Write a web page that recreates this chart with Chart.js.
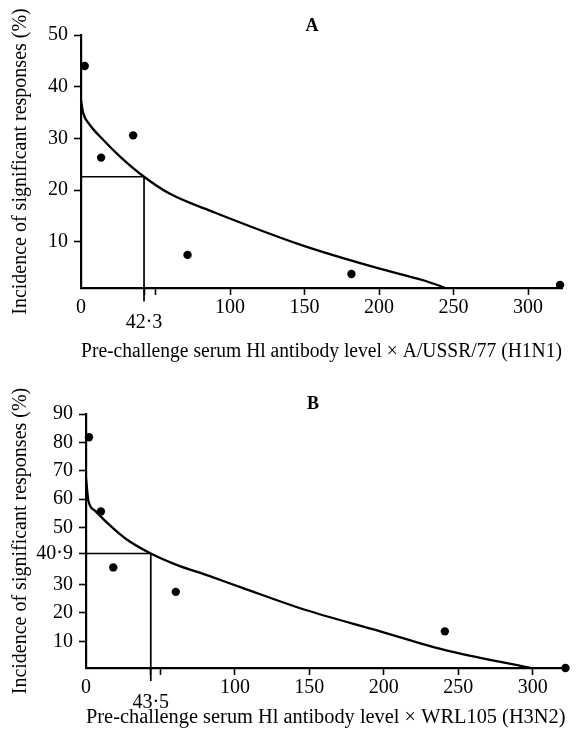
<!DOCTYPE html>
<html>
<head>
<meta charset="utf-8">
<script src="https://cdn.jsdelivr.net/npm/chart.js@4.4.1/dist/chart.umd.min.js"></script>
<style>
  body { margin: 0; background: #fff; }
  canvas { display: block; }
</style>
</head>
<body>
<canvas id="chartA" width="576" height="370"></canvas>
<canvas id="chartB" width="576" height="371"></canvas>
<script>
"use strict";

// panel A : A/USSR/77 (H1N1)
const doseA = [2.5, 13.5, 35, 71.5, 181.5, 321.5];
const respA = [44, 26.3, 30.6, 7.5, 3.8, 1.7];
const curveDoseA = [0, 1.5, 6, 15, 26.2, 42.3, 59.7, 88.8, 148, 198.5, 229.6, 244];
const curveRespA = [37.3, 34.9, 32.6, 29.7, 26.5, 22.6, 19.3, 15.8, 9.4, 5.0, 2.6, 1.2];
const cutA = [42.3, 22.6];
const xTicksA = [0, 42.3, 50, 100, 150, 200, 250, 300];
const yTicksA = [10, 20, 30, 40, 50];

// panel B : WRL105 (H3N2)
const doseB = [2, 10, 18.3, 60.3, 241, 322];
const respB = [81.8, 55.7, 36, 27.4, 13.5, 0.6];
const curveDoseB = [0, 1.6, 6, 15, 26.9, 43.5, 60.4, 82.7, 105, 147, 197.6, 240.6, 298.5];
const curveRespB = [67.5, 59.5, 56, 51.3, 46.0, 40.9, 37.0, 33, 28.8, 21.1, 13.5, 7, 0.6];
const cutB = [43.5, 40.9];
const xTicksB = [0, 43.5, 50, 100, 150, 200, 250, 300];
const yTicksB = [10, 20, 30, 40.9, 50, 60, 70, 80, 90];

const SERIF = '"Liberation Serif", "Times New Roman", serif';

const fmt = (v) => String(v).replace('.', '\u00B7');

const panelLetter = {
    id: 'panelLetter',
    afterDraw(chart, args, opts) {
        const ctx = chart.ctx;
        ctx.save();
        ctx.font = 'bold 18px ' + SERIF;
        ctx.fillStyle = '#000';
        ctx.textAlign = 'center';
        ctx.textBaseline = 'middle';
        ctx.fillText(opts.text, opts.x, opts.y);
        ctx.restore();
    }
};

function buildChart(canvasId, p) {
    const curve = p.curveX.map((x, i) => ({x: x, y: p.curveY[i]}));
    const points = p.dotsX.map((x, i) => ({x: x, y: p.dotsY[i]}));
    const guide = [
        {x: 0, y: p.cut[1]},
        {x: p.cut[0], y: p.cut[1]},
        {x: p.cut[0], y: p.foot}
    ];

    return new Chart(document.getElementById(canvasId), {
        type: 'scatter',
        data: {
            datasets: [
                {
                    data: curve,
                    showLine: true,
                    pointRadius: 0,
                    borderColor: '#000',
                    borderWidth: 2.3,
                    cubicInterpolationMode: 'monotone',
                    clip: false
                },
                {
                    data: guide,
                    showLine: true,
                    pointRadius: 0,
                    borderColor: '#000',
                    borderWidth: 1.7,
                    tension: 0,
                    clip: false
                },
                {
                    data: points,
                    pointRadius: 4.2,
                    backgroundColor: '#000',
                    borderWidth: 0,
                    clip: false
                }
            ]
        },
        options: {
            responsive: false,
            animation: false,
            layout: {padding: {top: p.padTop, right: p.padRight, left: 0, bottom: 0}},
            plugins: {
                legend: {display: false},
                tooltip: {enabled: false},
                panelLetter: p.letter
            },
            scales: {
                x: {
                    type: 'linear',
                    min: 0,
                    max: p.xMax,
                    afterBuildTicks: (s) => { s.ticks = p.xTicks.map((v) => ({value: v})); },
                    afterFit: (s) => { s.height = p.xHeight; },
                    ticks: {
                        autoSkip: false,
                        maxRotation: 0,
                        padding: 5,
                        color: '#000',
                        font: {family: SERIF, size: 20, lineHeight: 0.75},
                        callback: (v) => {
                            if (v === p.cut[0]) return ['', fmt(v)];
                            if (v === 50) return '';
                            return fmt(v);
                        }
                    },
                    grid: {
                        display: true,
                        drawOnChartArea: false,
                        drawTicks: true,
                        tickLength: 7,
                        tickWidth: 1.6,
                        tickColor: (c) => (c.tick && c.tick.value === 0) ? 'rgba(0,0,0,0)' : '#000'
                    },
                    border: {display: true, color: '#000', width: 2.2},
                    title: {
                        display: true,
                        text: p.xTitle,
                        color: '#000',
                        font: {family: SERIF, size: 20.5, lineHeight: 1},
                        padding: {top: 0, bottom: p.xTitlePad}
                    }
                },
                y: {
                    type: 'linear',
                    min: p.yMin,
                    max: p.yMax,
                    afterBuildTicks: (s) => { s.ticks = p.yTicks.map((v) => ({value: v})); },
                    afterFit: (s) => { s.width = p.yWidth; },
                    ticks: {
                        autoSkip: false,
                        padding: 6,
                        color: '#000',
                        font: {family: SERIF, size: 20, lineHeight: 1},
                        callback: (v) => fmt(v)
                    },
                    grid: {
                        display: true,
                        drawOnChartArea: false,
                        drawTicks: true,
                        tickLength: 7,
                        tickWidth: 1.6,
                        tickColor: '#000'
                    },
                    border: {display: true, color: '#000', width: 2.2},
                    title: {
                        display: true,
                        text: 'Incidence of significant responses (%)',
                        color: '#000',
                        font: {family: SERIF, size: 20, lineHeight: 1},
                        padding: {top: 11, bottom: 0}
                    }
                }
            }
        },
        plugins: [panelLetter]
    });
}

buildChart('chartA', {
    dotsX: doseA, dotsY: respA,
    curveX: curveDoseA, curveY: curveRespA,
    cut: cutA, foot: -1.5,
    xTicks: xTicksA, yTicks: yTicksA,
    xMax: 322.8, yMin: 1.1, yMax: 50,
    padTop: 35, padRight: 14, xHeight: 82, yWidth: 81, xTitlePad: 8,
    xTitle: 'Pre-challenge serum Hl antibody level \u00D7 A/USSR/77 (H1N1)',
    letter: {text: 'A', x: 312, y: 26}
});

buildChart('chartB', {
    dotsX: doseB, dotsY: respB,
    curveX: curveDoseB, curveY: curveRespB,
    cut: cutB, foot: -4,
    xTicks: xTicksB, yTicks: yTicksB,
    xMax: 322, yMin: 0.6, yMax: 90,
    padTop: 44, padRight: 10.5, xHeight: 73, yWidth: 86, xTitlePad: 13,
    xTitle: 'Pre-challenge serum Hl antibody level \u00D7 WRL105 (H3N2)',
    letter: {text: 'B', x: 313, y: 34}
});
</script>
</body>
</html>
